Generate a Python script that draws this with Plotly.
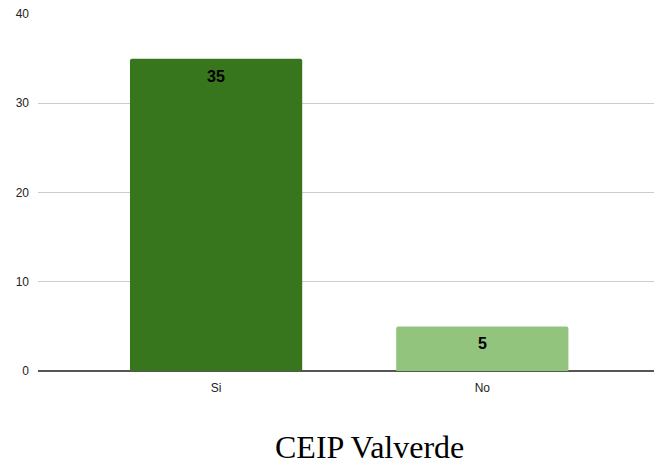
import plotly.graph_objects as go

categories = ["Si", "No"]
values = [35, 5]
colors = ["#38761d", "#93c47d"]
y_ticks = [0, 10, 20, 30, 40]
title_text = "CEIP Valverde"

fig = go.Figure()
fig.add_trace(go.Bar(
    x=categories,
    y=values,
    marker=dict(color=colors, line=dict(width=0), cornerradius=2),
    hoverinfo="skip",
))

label_annotations = [
    dict(
        x=c, y=v, xref="x", yref="y",
        text="<b>%d</b>" % v,
        showarrow=False,
        xanchor="center", yanchor="top",
        yshift=-7,
        font=dict(family="Arial, Liberation Sans", size=16, color="#000000"),
    )
    for c, v in zip(categories, values)
]

fig.update_layout(
    width=654,
    height=467,
    margin=dict(l=38, r=0, t=14, b=96),
    paper_bgcolor="white",
    plot_bgcolor="white",
    bargap=0.353,
    showlegend=False,
    font=dict(family="Arial, Liberation Sans", size=12, color="#222222"),
    xaxis=dict(
        range=[-0.669, 1.645],
        showgrid=False,
        showline=False,
        zeroline=False,
        ticks="",
        ticklabelstandoff=8,
        tickfont=dict(size=12, color="#222222"),
    ),
    yaxis=dict(
        range=[0, 40],
        tickvals=y_ticks,
        showgrid=True,
        gridcolor="#cccccc",
        gridwidth=1,
        zeroline=True,
        zerolinecolor="#555555",
        zerolinewidth=1.5,
        showline=False,
        ticks="",
        ticklabelstandoff=8,
        tickfont=dict(size=12, color="#222222"),
    ),
    annotations=label_annotations + [dict(
        text=title_text,
        xref="paper", yref="paper",
        x=(369 - 38) / 616, y=(371 - 447) / 357,
        xanchor="center", yanchor="middle",
        showarrow=False,
        font=dict(family="Liberation Serif, Times New Roman", size=32, color="#000000"),
    )],
)

fig.write_html(
    "out.html",
    config={"displayModeBar": False},
    post_script="document.body.style.margin='0';document.body.style.padding='0';",
)
